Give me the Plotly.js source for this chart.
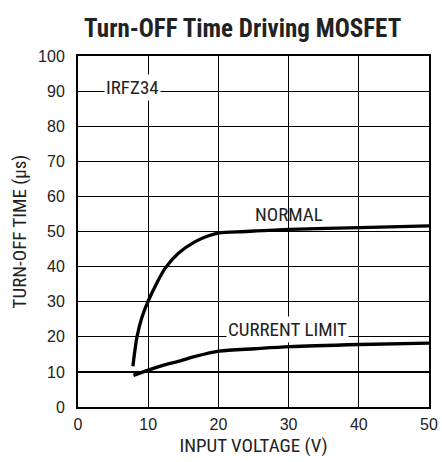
<!DOCTYPE html>
<html><head><meta charset="utf-8">
<script src="https://cdn.plot.ly/plotly-3.0.1.min.js"></script>
<style>html,body{margin:0;padding:0;background:#fff;}#chart{width:442px;height:462px;}</style>
</head><body><div id="chart"></div>
<script>
const normalX = [7.82, 8.1, 8.4, 9.1, 10.0, 11.2, 12.4, 14.3, 16.7, 18.5, 20.1, 23.8, 30.2, 40.2, 50];
const normalY = [11.6, 16.0, 20.0, 25.5, 30.2, 35.2, 39.5, 43.8, 47.1, 48.7, 49.6, 50.0, 50.6, 51.1, 51.6];
const currentX = [7.9, 10.0, 12.0, 14.3, 16.7, 20.1, 25.2, 30.2, 40.2, 50];
const currentY = [9.0, 10.5, 11.8, 13.0, 14.4, 15.9, 16.6, 17.2, 17.8, 18.2];
const xTicks = [0, 10, 20, 30, 40, 50];
const yTicks = [0, 10, 20, 30, 40, 50, 60, 70, 80, 90, 100];
const labels = [
  {text: 'NORMAL', x: 30, y: 54.8, bg: false},
  {text: 'CURRENT LIMIT', x: 29.8, y: 22, bg: true},
  {text: 'IRFZ34', x: 7.7, y: 91, bg: true}
];
const cond = '"Roboto Condensed", Roboto, sans-serif';
const tickF = {family: '"Liberation Sans", Arial, sans-serif', size: 16, color: '#222'};
const traces = [
  {x: normalX, y: normalY, mode: 'lines', line: {color: '#000', width: 3.3, shape: 'spline', smoothing: 0.8}, hoverinfo: 'skip'},
  {x: currentX, y: currentY, mode: 'lines', line: {color: '#000', width: 3.3, shape: 'spline', smoothing: 0.8}, hoverinfo: 'skip'}
];
const layout = {
  width: 442, height: 462, showlegend: false,
  paper_bgcolor: '#fff', plot_bgcolor: '#fff',
  margin: {l: 78, r: 13, t: 55.5, b: 54.5},
  title: {text: '<b>Turn-OFF Time Driving MOSFET</b>', font: {family: cond, size: 25, color: '#222'}, xref: 'container', x: 0.549, xanchor: 'center', yref: 'container', y: 0.938, yanchor: 'middle'},
  xaxis: {range: [0, 50], tickvals: xTicks, ticktext: xTicks.map(String), showgrid: true, gridcolor: '#000', gridwidth: 1.2, zeroline: false, showline: true, linecolor: '#000', linewidth: 2, mirror: true, ticks: '', tickfont: tickF, ticklabelstandoff: 2,
    title: {text: 'INPUT VOLTAGE (V)', font: {family: cond, size: 19, color: '#222'}, standoff: 6}},
  yaxis: {range: [0, 100], tickvals: yTicks, ticktext: yTicks.map(String), showgrid: true, gridcolor: '#000', gridwidth: 1.2, zeroline: false, showline: true, linecolor: '#000', linewidth: 2, mirror: true, ticks: '', tickfont: tickF, ticklabelstandoff: 8,
    title: {text: 'TURN-OFF TIME (µs)', font: {family: cond, size: 19, color: '#222'}, standoff: 6}},
  annotations: labels.map(l => ({x: l.x, y: l.y, xref: 'x', yref: 'y', text: l.text, showarrow: false, font: {family: cond, size: 19, color: '#222'}, bgcolor: l.bg ? '#fff' : 'rgba(0,0,0,0)', borderpad: 1}))
};
Plotly.newPlot('chart', traces, layout, {staticPlot: true});
</script></body></html>
